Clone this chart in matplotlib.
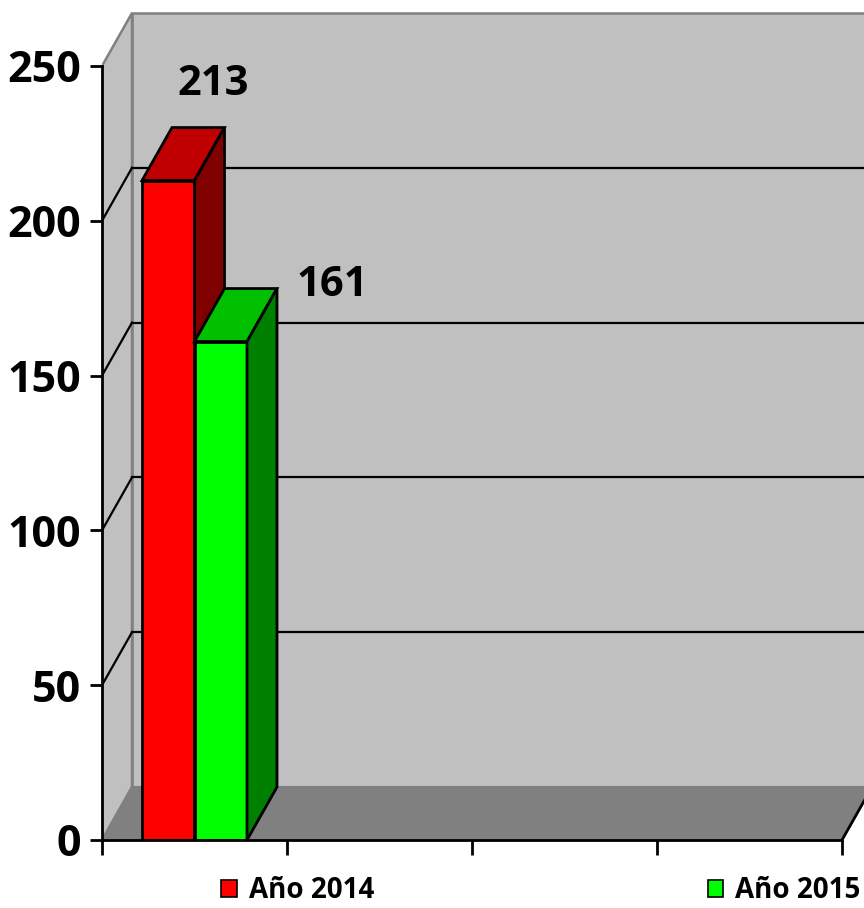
import matplotlib
matplotlib.use("Agg")
import matplotlib.pyplot as plt
from matplotlib.patches import Polygon, Patch

# ---- data ----
series = ["Año 2014", "Año 2015"]
values = [213, 161]
y_ticks = [0, 50, 100, 150, 200, 250]
n_categories = 4

# ---- styles ----
front_colors = ["#ff0000", "#00ff00"]
top_colors = ["#c00000", "#00c000"]
side_colors = ["#800000", "#008000"]
FONT = "Open Sans"

W, H, DPI = 864, 908, 100
fig = plt.figure(figsize=(W / DPI, H / DPI), dpi=DPI)

px_per_cat = 185.0
px_per_unit = 774.0 / 250.0
left_px, zero_px, top_px = 102, 840, 12
ax = fig.add_axes([left_px / W, (H - zero_px) / H, (W - left_px) / W, (zero_px - top_px) / H])
ax.set_xlim(0, (W - left_px) / px_per_cat)
ax.set_ylim(0, (zero_px - top_px) / px_per_unit)

dx = 30 / px_per_cat          # depth offset in category units
dy = 53 / px_per_unit         # depth offset in value units
ymax = y_ticks[-1]
xr = n_categories

wall = "#c0c0c0"
floor = "#808080"
edge_gray = "#808080"

# back wall
ax.add_patch(Polygon([(dx, dy), (xr + dx, dy), (xr + dx, ymax + dy), (dx, ymax + dy)],
                     closed=True, facecolor=wall, edgecolor=edge_gray, lw=1.8, zorder=1))
# side wall
ax.add_patch(Polygon([(0, 0), (dx, dy), (dx, ymax + dy), (0, ymax)],
                     closed=True, facecolor=wall, edgecolor=edge_gray, lw=1.8, zorder=1))
# floor
ax.add_patch(Polygon([(0, 0), (xr, 0), (xr + dx, dy), (dx, dy)],
                     closed=True, facecolor=floor, edgecolor=edge_gray, lw=1.5, zorder=1.5))
ax.plot([xr, xr + dx], [0, dy], color="black", lw=2, zorder=2, clip_on=False)

# gridlines
for v in y_ticks[1:-1]:
    ax.plot([dx, xr + dx + 1], [v + dy, v + dy], color="black", lw=1.6, zorder=1.8)
    ax.plot([0, dx], [v, v + dy], color="black", lw=1.6, zorder=1.8)

# bars
bar_w = 52.5 / px_per_cat
centers = [0.5 - bar_w / 2, 0.5 + bar_w / 2]
for i, (c, v) in enumerate(zip(centers, values)):
    x0, x1 = c - bar_w / 2, c + bar_w / 2
    z = 3 + i
    ax.bar(c, v, width=bar_w, color=front_colors[i], edgecolor="black", linewidth=2, zorder=z)
    ax.add_patch(Polygon([(x0, v), (x1, v), (x1 + dx, v + dy), (x0 + dx, v + dy)],
                         closed=True, facecolor=top_colors[i], edgecolor="black", lw=2, zorder=z))
    ax.add_patch(Polygon([(x1, 0), (x1 + dx, dy), (x1 + dx, v + dy), (x1, v)],
                         closed=True, facecolor=side_colors[i], edgecolor="black", lw=2, zorder=z))

# data labels
label_dx = [0.08, 0.44]
label_dy = [14, 1]
for i, (c, v) in enumerate(zip(centers, values)):
    ax.text(c + dx + label_dx[i], v + dy + label_dy[i], str(v), ha="center", va="center",
            fontsize=30, fontweight="bold", family=FONT, color="black", zorder=10)

# axes
for s in ["top", "right"]:
    ax.spines[s].set_visible(False)
ax.spines["left"].set_bounds(0, ymax)
ax.spines["bottom"].set_bounds(0, xr)
for s in ["left", "bottom"]:
    ax.spines[s].set_linewidth(2)
    ax.spines[s].set_zorder(9)
ax.set_yticks(y_ticks)
ax.set_yticklabels([str(t) for t in y_ticks], fontsize=31, fontweight="bold", family=FONT)
ax.tick_params(axis="y", length=9, width=2, pad=6)
ax.set_xticks(range(n_categories + 1))
ax.set_xticklabels([])
ax.tick_params(axis="x", length=11, width=2)
ax.set_facecolor("none")

# legend
handles = [Patch(facecolor=front_colors[i], edgecolor="black", lw=1.2) for i in range(len(series))]
fig.legend(handles, series, loc="center", bbox_to_anchor=(541 / W, 17 / H), ncol=2,
           frameon=False, handlelength=0.55, handleheight=0.55, handletextpad=0.45,
           columnspacing=12.0, borderpad=0, borderaxespad=0,
           prop={"family": FONT, "weight": "bold", "size": 20})

fig.savefig("out.png", dpi=DPI)
